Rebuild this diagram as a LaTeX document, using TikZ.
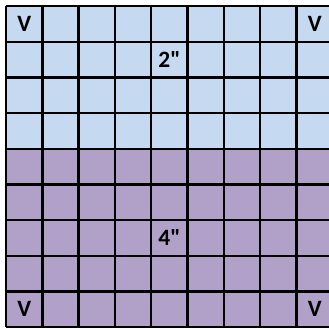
\documentclass[tikz,border=0pt]{standalone}
\usepackage{fontspec}
\setmainfont{Carlito}[Ligatures=ResetAll]
\definecolor{sheetblue}{RGB}{197,217,241}
\definecolor{sheetpurple}{RGB}{177,160,199}
\newcommand{\inch}{\XeTeXglyph\XeTeXcharglyph"22\relax}
\begin{document}
\begin{tikzpicture}[x=0.03cm,y=-0.03cm]
  \tikzset{cell label/.style={font=\fontsize{20}{24}\selectfont\bfseries, inner sep=0pt}}
  \useasboundingbox (0,0) rectangle (329,328);
  \begin{scope}
    \clip (0,0) rectangle (329,328);
    \fill[sheetblue] (6,6) rectangle (333,148.7);
    \fill[sheetpurple] (6,148.7) rectangle (333,327);
    \foreach \i in {0,...,9} {
      \draw[line width=2pt] (6+\i*36.33,6) -- (6+\i*36.33,327);
      \draw[line width=2pt] (6,6+\i*35.67) -- (333,6+\i*35.67);
    }
  \end{scope}
  \node[cell label] (vtl) at (24.2,23.8) {V};
  \node[cell label] (vtr) at (314.8,23.8) {V};
  \node[cell label] (vbl) at (24.2,309.2) {V};
  \node[cell label] (vbr) at (314.8,309.2) {V};
  \node[cell label] (top) at (169.5,59.5) {2\inch};
  \node[cell label] (bottom) at (169.5,237.9) {4\inch};
\end{tikzpicture}
\end{document}
